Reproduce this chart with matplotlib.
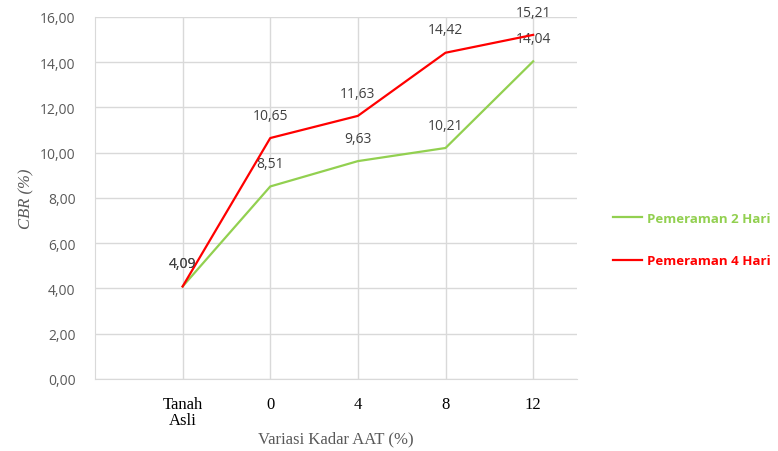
import matplotlib.pyplot as plt

# data
categories = ["Tanah\nAsli", "0", "4", "8", "12"]
hari2 = [4.09, 8.51, 9.63, 10.21, 14.04]
hari4 = [4.09, 10.65, 11.63, 14.42, 15.21]
series_names = ["Pemeraman 2 Hari", "Pemeraman 4 Hari"]
series_colors = ["#92d050", "#ff0000"]

fig = plt.figure(figsize=(7.78, 4.52), dpi=100)
ax = fig.add_axes([0.1221, 0.1593, 0.6195, 0.8009])

x = list(range(len(categories)))
lines = []
for vals, name, col in zip([hari2, hari4], series_names, series_colors):
    ln, = ax.plot(x, vals, color=col, lw=1.6, label=name, zorder=3)
    lines.append(ln)
    for xi, v in zip(x, vals):
        ax.annotate(f"{v:.2f}".replace(".", ","), (xi, v), xytext=(0, 11),
                    textcoords="offset points", ha="center", va="bottom",
                    fontsize=10, color="#404040", family="Open Sans")

ax.set_xlim(-1, len(categories) - 0.5)
ax.set_ylim(0, 16)
ax.set_yticks(range(0, 17, 2))
ax.set_yticklabels([f"{v},00" for v in range(0, 17, 2)], fontsize=10,
                   color="#595959", family="Open Sans")
ax.set_xticks(x)
ax.set_xticklabels(categories, fontsize=12, family="Liberation Serif",
                   color="black", linespacing=1.0)
ax.tick_params(axis="x", pad=12)
ax.tick_params(axis="y", pad=14)

ax.grid(True, color="#d9d9d9", lw=1)
ax.set_axisbelow(True)
ax.tick_params(length=0)
for s in ["top", "right"]:
    ax.spines[s].set_visible(False)
ax.spines["left"].set_color("#d9d9d9")
ax.spines["bottom"].set_color("#d9d9d9")

ax.set_xlabel("Variasi Kadar AAT (%)", fontsize=12, family="Liberation Serif",
              color="#595959", labelpad=2)
ax.set_ylabel("CBR (%)", fontsize=12, family="Liberation Serif",
              style="italic", color="#595959", labelpad=4)

leg = ax.legend(handles=lines, loc="center left", bbox_to_anchor=(1.05, 0.385),
                frameon=False, handlelength=2.2, handletextpad=0.4,
                labelspacing=2.2,
                prop={"family": "Open Sans", "weight": "bold", "size": 9.5},
                labelcolor=series_colors)

plt.savefig("out.png", dpi=100)
plt.close("all")
